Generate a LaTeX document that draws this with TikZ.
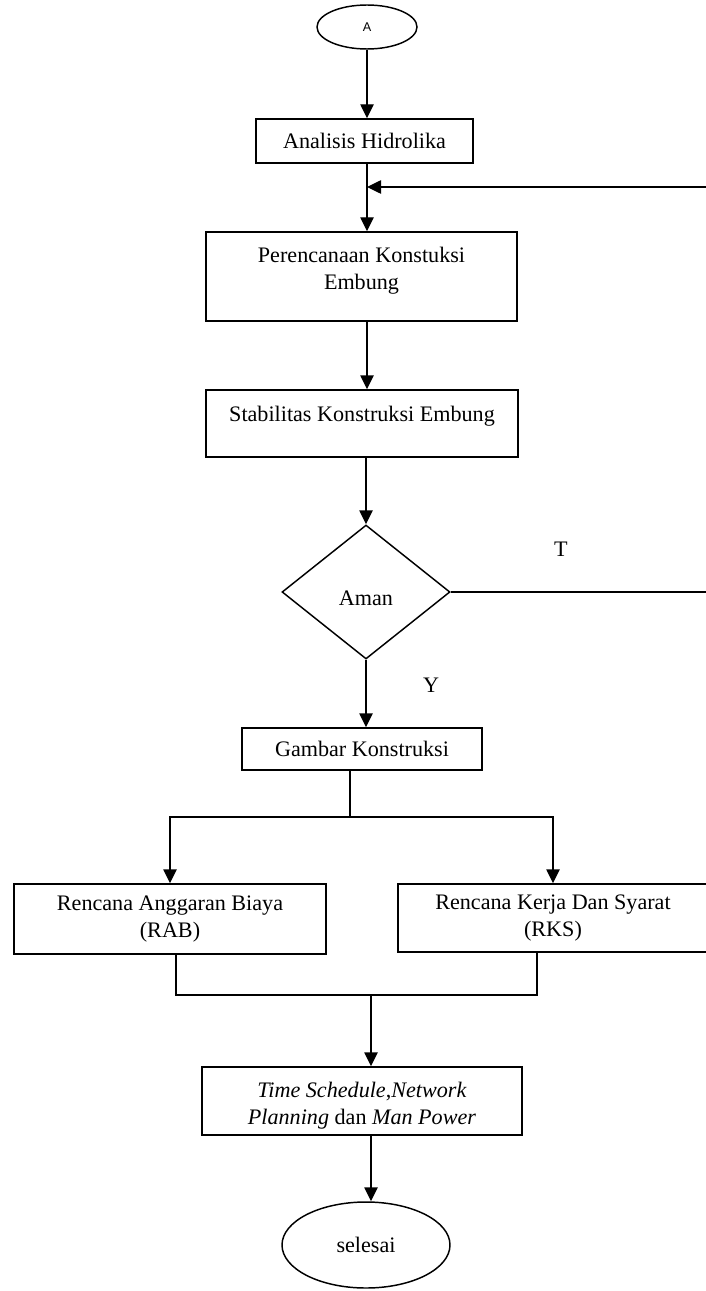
\documentclass[tikz,border=0pt]{standalone}
\usepackage{fontspec}
\setmainfont{Liberation Serif}
\newfontfamily\hurufsans{Liberation Sans}
\usetikzlibrary{shapes.geometric,arrows.meta}

\begin{document}
\begin{tikzpicture}[x=0.75pt,y=0.75pt,yscale=-1,xscale=1,
  line width=1.1pt,
  huruf/.style={font=\fontsize{16.6}{20.5}\selectfont},
  kotak/.style={draw,rectangle,inner sep=0pt,align=center,huruf},
  elips/.style={draw,ellipse,inner sep=0pt},
  belah/.style={draw,diamond,inner sep=0pt,huruf},
  panah/.style={-{Triangle[length=10.5pt,width=10pt]}}]
\useasboundingbox (0,0) rectangle (706,1291);

%Shape: Ellipse [id:mulai]
\draw (367,27) node [elips,minimum width=75pt,minimum height=33pt,font=\hurufsans\fontsize{9.5}{11}\selectfont] (mulai) {A};

%Shape: Rectangle [id:analisis]
\draw (364.5,141) node [kotak,minimum width=162.75pt,minimum height=33pt] (analisis) {Analisis Hidrolika};
%Shape: Rectangle [id:perencanaan]
\draw (361.5,276.5) node [kotak,minimum width=233.25pt,minimum height=66.75pt,text depth=12pt] (perencanaan) {Perencanaan Konstuksi\\Embung};
%Shape: Rectangle [id:stabilitas]
\draw (362,423.5) node [kotak,minimum width=234pt,minimum height=50.25pt,text depth=15pt] (stabilitas) {Stabilitas Konstruksi Embung};

%Shape: Diamond [id:aman]
\draw (366,592) node [belah,minimum width=126pt,minimum height=100.5pt,text height=20pt] (aman) {Aman};

%Shape: Rectangle [id:gambar]
\draw (362,749) node [kotak,minimum width=180pt,minimum height=31.5pt] (gambar) {Gambar Konstruksi};
%Shape: Rectangle [id:rab]
\draw (170,919) node [kotak,minimum width=234pt,minimum height=52.5pt] (rab) {Rencana Anggaran Biaya\\(RAB)};
%Shape: Rectangle [id:rks]
\draw (553,918) node [kotak,minimum width=232.5pt,minimum height=51pt] (rks) {Rencana Kerja Dan Syarat\\(RKS)};
%Shape: Rectangle [id:jadwal]
\draw (362,1101) node [kotak,minimum width=240pt,minimum height=51pt,text height=39pt] (jadwal) {\textit{Time Schedule},\textit{Network}\\\textit{Planning} dan \textit{Man Power}};

%Shape: Ellipse [id:selesai]
\draw (366,1245) node [elips,minimum width=126pt,minimum height=64.5pt,huruf] (selesai) {selesai};

% Text Node
\draw (561,549) node [huruf] (labelT) {T};
% Text Node
\draw (431,685) node [huruf] (labelY) {Y};

\coordinate (balik) at (367,187);
\coordinate (pojok) at (709,187);
\coordinate (cabang) at (350,817);
\coordinate (kiri) at (176,995);
\coordinate (kanan) at (537,995);
\coordinate (gabung) at (371,995);

%Straight Lines
\draw [panah] (mulai.south) -- (mulai.south |- analisis.north);
\draw [panah] (mulai |- analisis.south) -- (mulai |- perencanaan.north);
\draw [panah] (mulai |- perencanaan.south) -- (mulai |- stabilitas.north);
\draw [panah] (aman.north |- stabilitas.south) -- (aman.north);
\draw [panah] (aman.south) -- (aman.south |- gambar.north);

%Straight Lines: balik jika tidak aman
\draw [panah] (aman.east) -| (pojok) -- (balik);

%Straight Lines: cabang
\draw (gambar.south -| cabang) -- (cabang);
\draw [panah] (cabang) -| (rab.north);
\draw [panah] (cabang) -| (rks.north);

%Straight Lines: gabung
\draw (kiri |- rab.south) -- (kiri) -- (kanan) -- (kanan |- rks.south);
\draw [panah] (gabung) -- (gabung |- jadwal.north);
\draw [panah] (gabung |- jadwal.south) -- (gabung |- selesai.north);

\end{tikzpicture}
\end{document}
